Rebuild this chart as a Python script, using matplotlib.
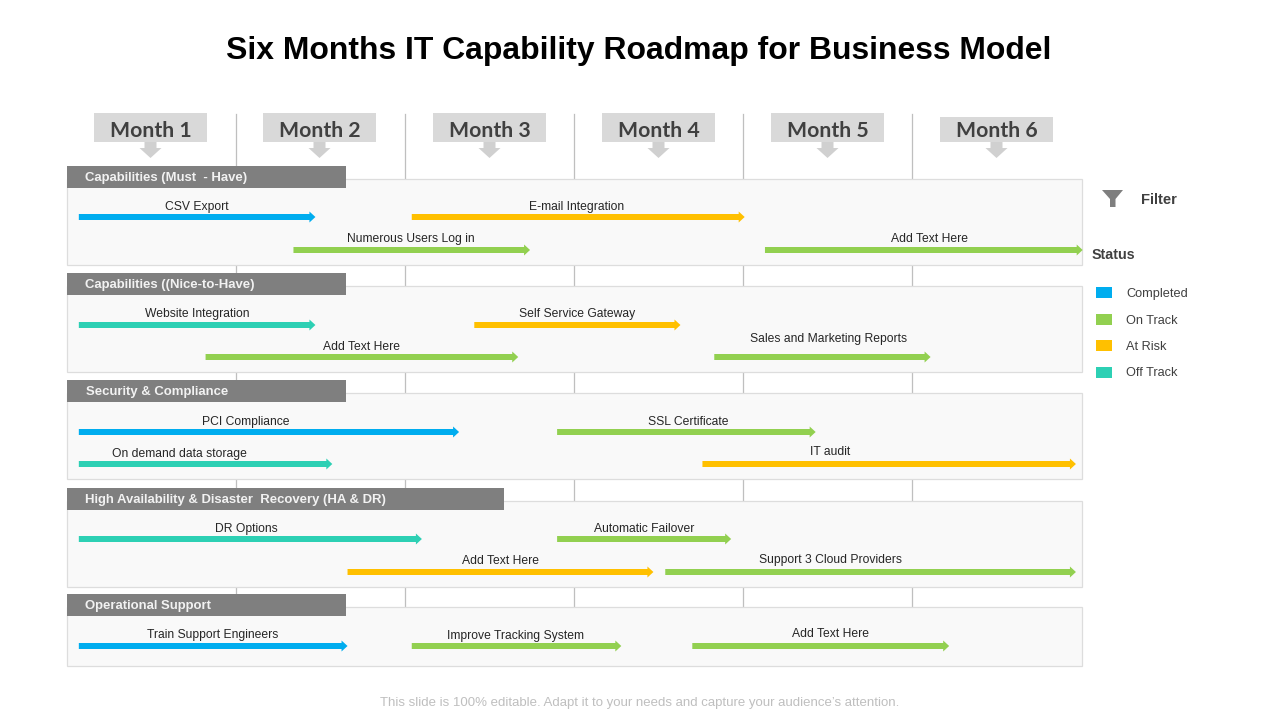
"""Six month IT capability roadmap, drawn as a swimlane chart."""
import matplotlib
matplotlib.use("Agg")
import matplotlib.pyplot as plt
from matplotlib.patches import Polygon, Rectangle

plt.rcParams['font.family'] = ['Liberation Sans', 'DejaVu Sans']

# --- data: times are in months from the start of the roadmap ---
months = ["Month 1", "Month 2", "Month 3", "Month 4", "Month 5", "Month 6"]
lanes = ["Capabilities (Must  - Have)", "Capabilities ((Nice-to-Have)", "Security & Compliance",
         "High Availability & Disaster  Recovery (HA & DR)", "Operational Support"]

task_names = ["CSV Export", "E-mail Integration", "Numerous Users Log in", "Add Text Here",
              "Website Integration", "Self Service Gateway", "Add Text Here", "Sales and Marketing Reports",
              "PCI Compliance", "SSL Certificate", "On demand data storage", "IT audit",
              "DR Options", "Automatic Failover", "Add Text Here", "Support 3 Cloud Providers",
              "Train Support Engineers", "Improve Tracking System", "Add Text Here"]
task_start = [0.07, 2.04, 1.34, 4.13,
              0.07, 2.41, 0.82, 3.83,
              0.07, 2.90, 0.07, 3.76,
              0.07, 2.90, 1.66, 3.54,
              0.07, 2.04, 3.70]
task_end = [1.47, 4.01, 2.74, 6.01,
            1.47, 3.63, 2.67, 5.11,
            2.32, 4.43, 1.57, 5.97,
            2.10, 3.93, 3.47, 5.97,
            1.66, 3.28, 5.22]
task_status = ["Completed", "At Risk", "On Track", "On Track",
               "Off Track", "At Risk", "On Track", "On Track",
               "Completed", "On Track", "Off Track", "At Risk",
               "Off Track", "On Track", "At Risk", "On Track",
               "Completed", "On Track", "On Track"]
statuses = ["Completed", "On Track", "At Risk", "Off Track"]

# --- layout: the y axis runs in pixels, x in months ---
status_colors = {"Completed": "#00ADEF", "On Track": "#92D050", "At Risk": "#FFC000", "Off Track": "#2DD0B4"}
month_px = 169
left_px = 67
task_y = [217, 217, 250, 250,
          325, 325, 357, 357,
          432, 432, 464, 464,
          539, 539, 572, 572,
          646, 646, 646]
label_x = [197, 577, 411, 929,
           197, 577, 361, 829,
           246, 688, 179, 830,
           246, 644, 500, 830,
           213, 515, 830]
label_y = [207, 207, 239, 239,
           314, 314, 347, 339,
           422, 422, 454, 452,
           529, 529, 561, 560,
           635, 636, 634]
lane_top = [179, 286, 393, 501, 607]
lane_bottom = [265, 372, 479, 587, 666]
header_top = [166, 273, 380, 488, 594]
header_right = [346, 346, 346, 504, 346]
header_text_x = [85, 85, 86, 85, 85]
month_box_left = [94, 263, 433, 602, 771, 940]
legend_y = [292.5, 319.5, 345.5, 372.5]


def mx(px):
    # pixel column to months
    return (px - left_px) / month_px


fig = plt.figure(figsize=(12.8, 7.2), dpi=100)
ax = fig.add_axes([0, 0, 1, 1])
ax.set_xlim(mx(0), mx(1280))
ax.set_ylim(720, 0)
ax.axis("off")

ax.text(mx(639), 51.5, "Six Months IT Capability Roadmap for Business Model", fontsize=22.95,
        fontweight="bold", color="black", ha="center", va="center")

# month dividers sit behind the lanes
for m in range(1, 6):
    ax.plot([m, m], [114, lane_top[-1]], color="#BFBFBF", linewidth=0.9, zorder=1)

# month headers with their down arrows
for i, name in enumerate(months):
    left = mx(month_box_left[i])
    centre = mx(month_box_left[i] + 56.5)
    top = 117 if i == 5 else 113
    ax.add_patch(Rectangle((left, top), 113 / month_px, 142 - top, facecolor="#D9D9D9", edgecolor="none", zorder=2))
    ax.add_patch(Polygon([(centre - 6 / month_px, 142), (centre + 6 / month_px, 142),
                          (centre + 6 / month_px, 148), (centre + 11 / month_px, 148),
                          (centre, 158), (centre - 11 / month_px, 148),
                          (centre - 6 / month_px, 148)], facecolor="#D0D0D0", edgecolor="none", zorder=2))
    ax.text(centre, 131, name, fontsize=15.3, fontweight="bold", family=["Lato", "DejaVu Sans"],
            color="#404040", ha="center", va="center", zorder=3)

# lanes and their grey title bars
for i, name in enumerate(lanes):
    ax.add_patch(Rectangle((0, lane_top[i]), 1015 / month_px, lane_bottom[i] - lane_top[i],
                           facecolor="#F9F9F9", edgecolor="#DDDDDD", linewidth=0.9, zorder=2))
    ax.add_patch(Rectangle((0, header_top[i]), mx(header_right[i]), 22, facecolor="#7F7F7F",
                           edgecolor="none", zorder=3))
    ax.text(mx(header_text_x[i]), header_top[i] + 12, name, fontsize=9.45, fontweight="bold", color="#F2F2F2",
            ha="left", va="center", zorder=4)

# task arrows
for i, name in enumerate(task_names):
    ax.arrow(task_start[i], task_y[i], task_end[i] - task_start[i], 0, width=6, head_width=11,
             head_length=6 / month_px, length_includes_head=True, facecolor=status_colors[task_status[i]],
             edgecolor="none", zorder=4)
    ax.text(mx(label_x[i]), label_y[i], name, fontsize=8.7, color="#262626", ha="center", va="center", zorder=5)

# filter funnel and status legend
ax.add_patch(Polygon([(mx(1102), 190), (mx(1123), 190), (mx(1115.5), 199), (mx(1115.5), 207),
                      (mx(1110), 207), (mx(1110), 199)], facecolor="#7F7F7F", edgecolor="none"))
ax.text(mx(1141), 200, "Filter", fontsize=10.6, fontweight="bold", color="#404040", ha="left", va="center")
ax.text(mx(1092), 255, "Status", fontsize=10.3, fontweight="bold", color="#404040", ha="left", va="center")
for status, y in zip(statuses, legend_y):
    ax.add_patch(Rectangle((mx(1096), y - 5.5), 16 / month_px, 11, facecolor=status_colors[status], edgecolor="none"))
    ax.text(mx(1126), y + 1, status, fontsize=9.2, color="#404040", ha="left", va="center")

ax.text(mx(640), 703, "This slide is 100% editable. Adapt it to your needs and capture your audience\u2019s attention.",
        fontsize=9.5, color="#BFBFBF", ha="center", va="center")

fig.savefig("out.png", dpi=100)
